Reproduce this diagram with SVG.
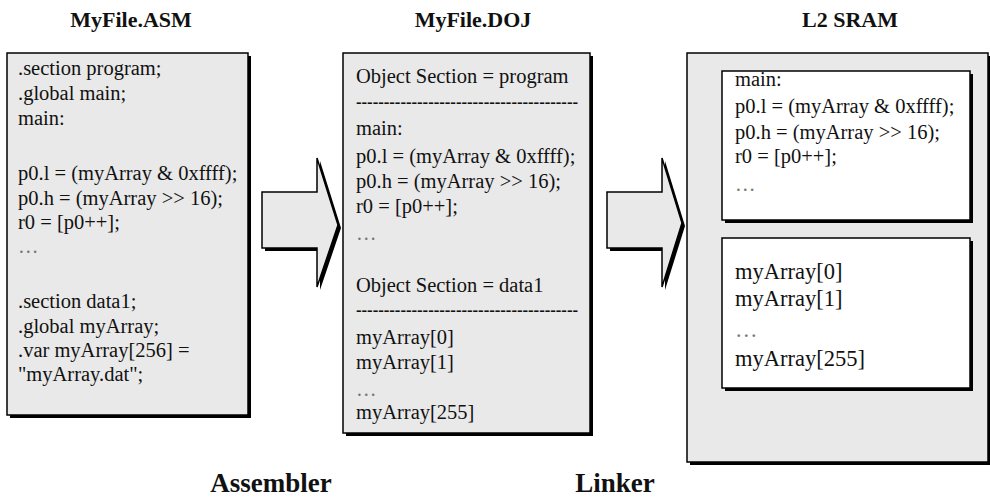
<svg xmlns="http://www.w3.org/2000/svg" width="990" height="502" viewBox="0 0 990 502">
<style>
.box{fill:#e9e9e9;stroke:#000;stroke-width:1.5}
.inner{fill:#fff;stroke:#000;stroke-width:1.5}
.sh{fill:#000}
.t{font-family:"Liberation Serif","Times New Roman",serif;font-size:20.5px;fill:#111}
.big{font-size:22.5px}
.dots{fill:#777}
.title{font-family:"Liberation Serif","Times New Roman",serif;font-size:22px;font-weight:bold;fill:#111;text-anchor:middle}
.lab{font-family:"Liberation Serif","Times New Roman",serif;font-size:27px;font-weight:bold;fill:#111;text-anchor:middle}
.arr{fill:#e9e9e9;stroke:#000;stroke-width:1.5;stroke-linejoin:miter}
</style>
<rect width="990" height="502" fill="#fff"/>

<g id="asm">
<text class="title" x="131" y="27">MyFile.ASM</text>
<rect class="sh" x="10" y="56" width="241" height="362"/>
<rect class="box" x="7" y="53" width="241" height="362"/>
<text class="t" x="18" y="75">.section program;</text>
<text class="t" x="18" y="100">.global main;</text>
<text class="t" x="18" y="125">main:</text>
<text class="t" x="18" y="180">p0.l = (myArray &amp; 0xffff);</text>
<text class="t" x="18" y="205">p0.h = (myArray &gt;&gt; 16);</text>
<text class="t" x="18" y="229">r0 = [p0++];</text>
<text class="t dots" x="18" y="253">…</text>
<text class="t" x="18" y="308">.section data1;</text>
<text class="t" x="18" y="333">.global myArray;</text>
<text class="t" x="18" y="357">.var myArray[256] =</text>
<text class="t" x="18" y="381">"myArray.dat";</text>
</g>

<g id="doj">
<text class="title" x="473" y="27">MyFile.DOJ</text>
<rect class="sh" x="346" y="56" width="247" height="380"/>
<rect class="box" x="343" y="53" width="247" height="380"/>
<text class="t" x="356" y="83">Object Section = program</text>
<text class="t" x="356" y="108" textLength="222" lengthAdjust="spacingAndGlyphs">----------------------------------------</text>
<text class="t" x="356" y="135">main:</text>
<text class="t" x="356" y="163">p0.l = (myArray &amp; 0xffff);</text>
<text class="t" x="356" y="188">p0.h = (myArray &gt;&gt; 16);</text>
<text class="t" x="356" y="213">r0 = [p0++];</text>
<text class="t dots" x="356" y="240">…</text>
<text class="t" x="356" y="292">Object Section = data1</text>
<text class="t" x="356" y="316" textLength="222" lengthAdjust="spacingAndGlyphs">----------------------------------------</text>
<text class="t" x="356" y="344">myArray[0]</text>
<text class="t" x="356" y="369">myArray[1]</text>
<text class="t dots" x="356" y="396">…</text>
<text class="t" x="356" y="419">myArray[255]</text>
</g>

<g id="sram">
<text class="title" x="850" y="27">L2 SRAM</text>
<rect class="sh" x="690" y="56" width="301" height="409"/>
<rect class="box" x="687" y="53" width="301" height="409"/>
<g id="sram-program">
<rect class="sh" x="725" y="74" width="248" height="149"/>
<rect class="inner" x="722" y="71" width="248" height="149"/>
<text class="t" x="735" y="86">main:</text>
<text class="t" x="735" y="113">p0.l = (myArray &amp; 0xffff);</text>
<text class="t" x="735" y="139">p0.h = (myArray &gt;&gt; 16);</text>
<text class="t" x="735" y="163">r0 = [p0++];</text>
<text class="t dots" x="735" y="191">…</text>
</g>
<g id="sram-data">
<rect class="sh" x="725" y="241" width="248" height="150"/>
<rect class="inner" x="722" y="238" width="248" height="150"/>
<text class="t big" x="735" y="279">myArray[0]</text>
<text class="t big" x="735" y="306">myArray[1]</text>
<text class="t big dots" x="735" y="337">…</text>
<text class="t big" x="735" y="366">myArray[255]</text>
</g>
</g>

<g id="connectors">
<g id="assembler-arrow">
<polygon class="sh" points="265,195 320,195 320,161 341,228 320,290 320,251 265,251"/>
<polygon class="arr" points="262,192 317,192 317,158 338,225 317,287 317,248 262,248"/>
</g>
<g id="linker-arrow">
<polygon class="sh" points="610,195 665,195 665,161 685,226 665,290 665,251 610,251"/>
<polygon class="arr" points="607,192 662,192 662,158 682,223 662,287 662,248 607,248"/>
</g>
</g>

<g id="labels">
<text class="lab" x="271" y="492">Assembler</text>
<text class="lab" x="615" y="492">Linker</text>
</g>
</svg>
